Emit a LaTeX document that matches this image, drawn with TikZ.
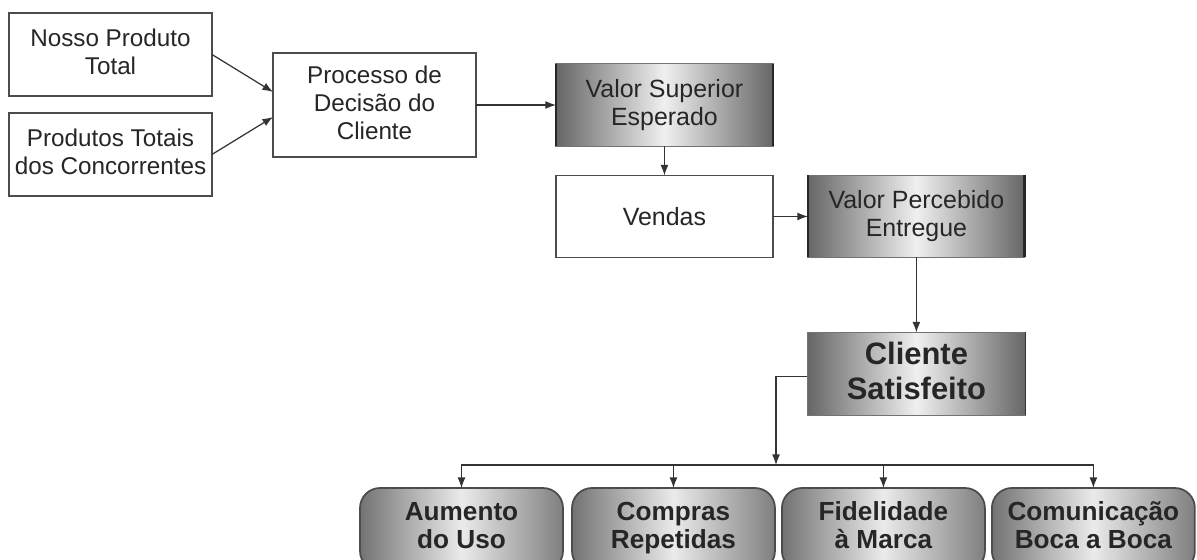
\documentclass[tikz,border=0pt]{standalone}
\usepackage{fontspec}
\setmainfont{Liberation Sans}
\usepackage{tikz}
\usetikzlibrary{positioning}
\usetikzlibrary{arrows.meta}
\tikzset{>=stealth}

\begin{document}
\begin{tikzpicture}[x=0.02cm, y=-0.02cm,
	line/.style={draw, black!80, line width=0.7pt, -{Latex[length=6pt,width=4.5pt]}},
	struts/.style={execute at begin node=\strut, execute at end node=\strut},
	lowstruts/.style={execute at begin node=\rule{0pt}{1.25em},
		execute at end node=\rule[-0.2em]{0pt}{0pt}},
	basebox/.style={draw=black!70, line width=0.7pt, fill=white, text=black!85,
		align=center, inner sep=1pt, outer sep=0pt, minimum width=4.06cm,
		minimum height=1.66cm, font=\fontsize{13.8}{16}\selectfont},
	plainbox/.style={basebox, lowstruts},
	valuebox/.style={lowstruts, draw=black!55, line width=0.7pt, left color=black!60,
		right color=black!60, middle color=black!6, text=black!85, align=center,
		inner sep=1pt, outer sep=0pt, minimum width=4.34cm, minimum height=1.66cm,
		font=\fontsize{14.2}{16}\selectfont},
	resultbox/.style={struts, draw=black!70, line width=1pt, rounded corners=0.4cm,
		left color=black!55, right color=black!50, middle color=black!8,
		text=black!85, align=center, inner sep=1pt, outer sep=0pt,
		minimum width=4.06cm, minimum height=1.66cm,
		font=\bfseries\fontsize{14.9}{16}\selectfont},
	rim/.style={black!85, line width=1.6pt}]
	\useasboundingbox (0,0) rectangle (1197,560);
	\clip (0,0) rectangle (1197,560);
	%% Inputs
	\node [plainbox] (NPT) at (110.5,54.5) {Nosso Produto\\Total};
	\node [plainbox, below=0.34cm of NPT] (PTC) {Produtos Totais\\dos Concorrentes};
	\node [plainbox, minimum height=2.08cm] (PDC) at (374.5,105) {Processo de\\Decisão do\\Cliente};
	%% Value chain
	\node [valuebox, right=1.6cm of PDC] (VSE) {Valor Superior\\Esperado};
	\node [basebox, minimum width=4.34cm, minimum height=1.64cm,
		font=\fontsize{14.2}{16}\selectfont, below=0.58cm of VSE] (VEN) {Vendas};
	\node [valuebox, minimum height=1.64cm, right=0.7cm of VEN] (VPE) {Valor Percebido\\Entregue};
	\node [valuebox, minimum width=4.36cm, below=1.5cm of VPE,
		font=\bfseries\fontsize{17.6}{19.6}\selectfont] (CS) {Cliente\\Satisfeito};
	\draw [rim] (VSE.north west) -- (VSE.south west);
	\draw [rim] (VSE.north east) -- (VSE.south east);
	\draw [rim] (VPE.north west) -- (VPE.south west);
	\draw [rim] (VPE.north east) -- (VPE.south east);
	\draw [black!80, line width=1pt] (CS.north east) -- (CS.south east);
	%% Outcomes
	\node [resultbox] (B1) at (461.5,529.5) {Aumento\\do Uso};
	\node [resultbox, right=0.18cm of B1] (B2) {Compras\\Repetidas};
	\node [resultbox, right=0.14cm of B2] (B3) {Fidelidade\\à Marca};
	\node [resultbox, right=0.14cm of B3] (B4) {Comunicação\\Boca a Boca};
	\coordinate (J) at (776,465);
	%% Connectors
	\path [line] (NPT.east) -- ([yshift=0.26cm]PDC.west);
	\path [line] (PTC.east) -- ([yshift=-0.24cm]PDC.west);
	\path [line] (PDC) -- (VSE);
	\path [line] (VSE) -- (VEN);
	\path [line] (VEN) -- (VPE);
	\path [line] (VPE) -- (CS);
	\path [line] ([yshift=-0.05cm]CS.west) -| (J);
	\path [line] (J) -| (B1.north);
	\path [line] (J) -| (B2.north);
	\path [line] (J) -| (B3.north);
	\path [line] (J) -| (B4.north);
\end{tikzpicture}
\end{document}
